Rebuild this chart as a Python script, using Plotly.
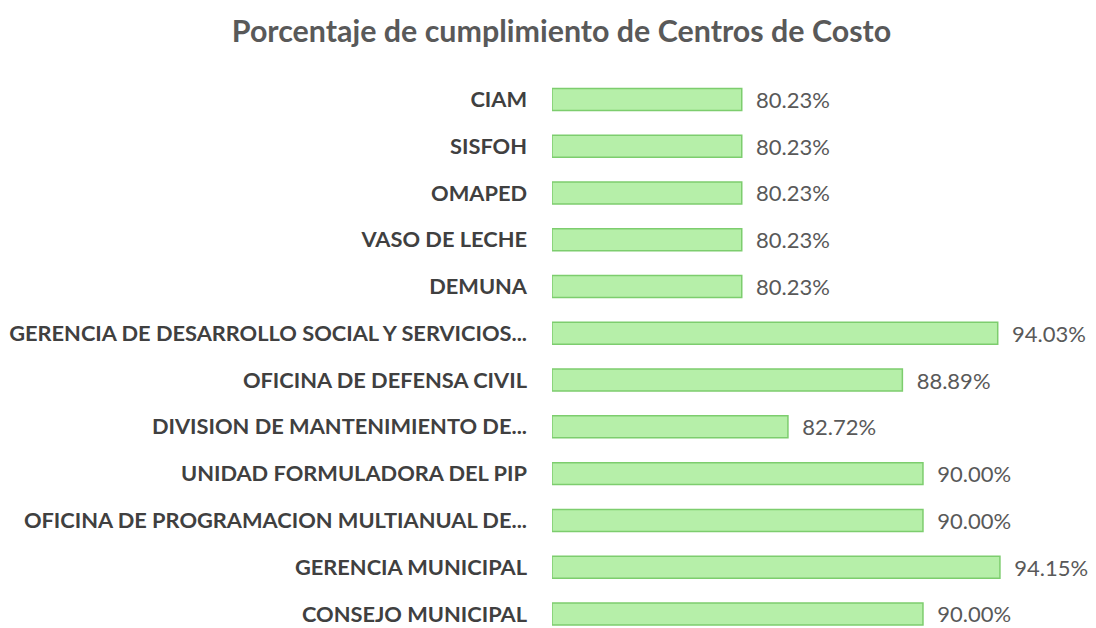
import plotly.graph_objects as go

# cost centres, top to bottom as they appear
centros = [
    'CIAM',
    'SISFOH',
    'OMAPED',
    'VASO DE LECHE',
    'DEMUNA',
    'GERENCIA DE DESARROLLO SOCIAL Y SERVICIOS...',
    'OFICINA DE DEFENSA CIVIL',
    'DIVISION DE MANTENIMIENTO DE...',
    'UNIDAD FORMULADORA DEL PIP',
    'OFICINA DE PROGRAMACION MULTIANUAL DE...',
    'GERENCIA MUNICIPAL',
    'CONSEJO MUNICIPAL',
]
cumplimiento = [80.23, 80.23, 80.23, 80.23, 80.23, 94.03, 88.89, 82.72, 90.00, 90.00, 94.15, 90.00]

eje_min = 70  # the horizontal axis starts at 70%
pos = list(range(len(centros)))

fig = go.Figure()

fig.add_trace(go.Bar(
    x=[v - eje_min for v in cumplimiento],
    y=pos,
    base=eje_min,
    orientation='h',
    marker=dict(color='#b6efa9', line=dict(color='#7dcd6e', width=1.5)),
    text=[f'\u00a0\u00a0{v:.2f}%' for v in cumplimiento],
    textposition='outside',
    constraintext='none',
    textfont=dict(family='Lato', size=22, color='#595959'),
    cliponaxis=False,
    width=0.47,
))

fig.update_layout(
    width=1096,
    height=628,
    margin=dict(l=544, r=0, t=68, b=8, autoexpand=False),
    paper_bgcolor='white',
    plot_bgcolor='white',
    showlegend=False,
    title=dict(
        text='<b>Porcentaje de cumplimiento de Centros de Costo</b>',
        x=0.505, xanchor='center', y=0.963, yanchor='middle',
        font=dict(family='Lato', size=30.4, color='#595959'),
    ),
    xaxis=dict(range=[eje_min, 99.76], visible=False, automargin=False),
    yaxis=dict(
        range=[11.3, -0.5],
        tickmode='array',
        tickvals=pos,
        ticktext=[f'<b>{c}</b>' for c in centros],
        tickfont=dict(family='Lato', size=21.8, color='#404040'),
        ticklabelstandoff=24,
        automargin=False,
        showgrid=False,
        zeroline=False,
        showline=False,
        ticks='',
    ),
)

fig.write_html('out.html')
